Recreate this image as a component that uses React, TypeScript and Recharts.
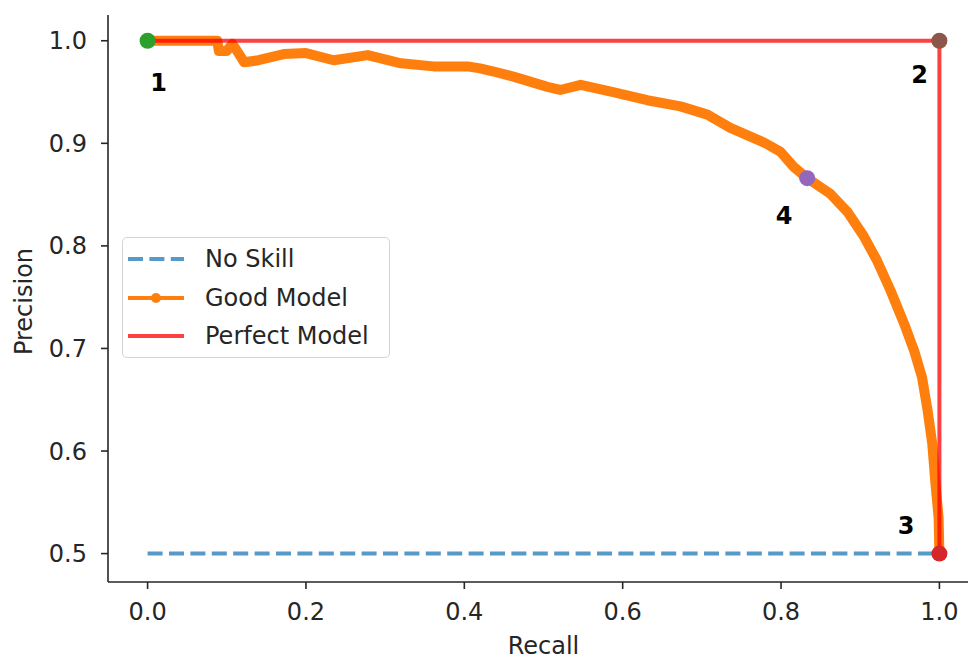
import React from "react";
import {
  ComposedChart, Line, XAxis, YAxis, Legend, ReferenceDot,
} from "recharts";

// Good Model precision-recall curve
const goodRecall = [
  0, 0.088, 0.09, 0.1, 0.107, 0.113, 0.122, 0.14, 0.172, 0.2, 0.235, 0.278,
  0.32, 0.361, 0.404, 0.42, 0.437, 0.462, 0.505, 0.521, 0.547, 0.588, 0.631,
  0.673, 0.707, 0.736, 0.778, 0.799, 0.816, 0.833, 0.862, 0.884, 0.904, 0.921,
  0.938, 0.955, 0.968, 0.978, 0.985, 0.991, 0.995, 0.999, 1.0,
];
const goodPrecision = [
  1.0, 1.0, 0.99, 0.99, 0.997, 0.99, 0.979, 0.981, 0.987, 0.988, 0.981, 0.986,
  0.978, 0.975, 0.975, 0.973, 0.97, 0.965, 0.955, 0.952, 0.957, 0.95, 0.942,
  0.936, 0.928, 0.915, 0.901, 0.892, 0.877, 0.866, 0.851, 0.833, 0.81, 0.786,
  0.757, 0.725, 0.698, 0.672, 0.64, 0.607, 0.568, 0.535, 0.5,
];

const noSkillRecall = [0, 1];
const noSkillPrecision = [0.5, 0.5];

const perfectRecall = [0, 1, 1];
const perfectPrecision = [1, 1, 0.5];

// numbered points and their text labels
const pointNames = ["1", "2", "3", "4"];
const pointRecall = [0, 1, 1, 0.833];
const pointPrecision = [1, 1, 0.5, 0.866];
const pointColors = ["#2ca02c", "#8c564b", "#d62728", "#9467bd"];
const labelRecall = [0.014, 0.975, 0.958, 0.804];
const labelPrecision = [0.959, 0.967, 0.527, 0.83];

const xTicks = [0, 0.2, 0.4, 0.6, 0.8, 1.0];
const yTicks = [0.5, 0.6, 0.7, 0.8, 0.9, 1.0];

const toRows = (xs: number[], ys: number[]) => xs.map((x, i) => ({ x, y: ys[i] }));

const FONT = "'DejaVu Sans', sans-serif";
const INK = "#262626";
const BLUE = "#5799c7";
const ORANGE = "#ff7f0e";

function LegendBox() {
  const row = { display: "flex", alignItems: "center", height: 38.5 } as const;
  const text = { marginLeft: 21, fontSize: 24, color: INK, fontFamily: FONT, whiteSpace: "nowrap" } as const;
  return (
    <div style={{
      width: 268, height: 121, border: "1px solid #d4d4d4", borderRadius: 5,
      background: "rgba(255,255,255,0.8)", boxSizing: "border-box", padding: "2px 0 0 5px",
    }}>
      <div style={row}>
        <svg width={56} height={10}>
          <line x1={0} y1={5} x2={56} y2={5} stroke={BLUE} strokeWidth={4} strokeDasharray="15 6.4" />
        </svg>
        <span style={text}>No Skill</span>
      </div>
      <div style={row}>
        <svg width={56} height={12}>
          <line x1={0} y1={6} x2={56} y2={6} stroke={ORANGE} strokeWidth={4} />
          <circle cx={28} cy={6} r={5} fill={ORANGE} />
        </svg>
        <span style={text}>Good Model</span>
      </div>
      <div style={row}>
        <svg width={56} height={10}>
          <line x1={0} y1={5} x2={56} y2={5} stroke="red" strokeOpacity={0.75} strokeWidth={4} />
        </svg>
        <span style={text}>Perfect Model</span>
      </div>
    </div>
  );
}

export default function App() {
  const tick = { fill: INK, fontSize: 24, fontFamily: FONT };
  const axisLine = { stroke: INK, strokeWidth: 1.6 };

  return (
    <div style={{ position: "fixed", left: 0, top: 0, width: 968, height: 660, overflow: "hidden", background: "#fff", fontFamily: FONT }}>
      <ComposedChart width={990} height={660} margin={{ top: 15, right: 11, bottom: 0, left: 0 }}>
        <XAxis dataKey="x" type="number" domain={[-0.05, 1.05]} ticks={xTicks}
          tickFormatter={(v) => v.toFixed(1)} tick={tick} tickSize={7} tickMargin={14}
          axisLine={axisLine} tickLine={axisLine} height={78}
          label={{ value: "Recall", position: "insideBottom", offset: 6, fill: INK, fontSize: 24 }} />
        <XAxis xAxisId="top" orientation="top" type="number" domain={[-0.05, 1.05]}
          tick={false} tickLine={false} axisLine={axisLine} height={0} />
        <YAxis type="number" domain={[0.4723, 1.0251]} ticks={yTicks} allowDataOverflow
          tickFormatter={(v) => v.toFixed(1)} tick={tick} tickSize={7} tickMargin={14}
          axisLine={axisLine} tickLine={axisLine} width={108}
          label={{
            value: "Precision",
            content: (p: any) => {
              const vb = p.viewBox;
              const cy = vb.y + vb.height / 2 + 3;
              return (
                <text x={32} y={cy} transform={`rotate(-90, 32, ${cy})`} textAnchor="middle"
                  fill={INK} fontSize={24} fontFamily={FONT}>Precision</text>
              );
            },
          }} />
        <Legend layout="vertical" align="center" verticalAlign="middle"
          wrapperStyle={{ left: 122, top: 237, width: 270 }} content={() => <LegendBox />} />

        <Line data={toRows(noSkillRecall, noSkillPrecision)} dataKey="y" name="No Skill"
          stroke={BLUE} strokeWidth={4} strokeDasharray="15 6.4" dot={false} activeDot={false}
          isAnimationActive={false} />
        <Line data={toRows(goodRecall, goodPrecision)} dataKey="y" name="Good Model"
          stroke={ORANGE} strokeWidth={10} strokeLinejoin="round" strokeLinecap="round"
          dot={false} activeDot={false} isAnimationActive={false} />
        <Line data={toRows(perfectRecall, perfectPrecision)} dataKey="y" name="Perfect Model"
          stroke="red" strokeOpacity={0.75} strokeWidth={4} dot={false} activeDot={false}
          isAnimationActive={false} />

        {pointNames.map((n, i) => (
          <ReferenceDot key={"p" + n} x={pointRecall[i]} y={pointPrecision[i]} r={8}
            fill={pointColors[i]} stroke="none" />
        ))}
        {pointNames.map((n, i) => (
          <ReferenceDot key={"l" + n} x={labelRecall[i]} y={labelPrecision[i]} r={0}
            fill="none" stroke="none"
            label={{ value: n, position: "center", fill: "#000", fontSize: 24, fontWeight: "bold", fontFamily: FONT }} />
        ))}
      </ComposedChart>
    </div>
  );
}
